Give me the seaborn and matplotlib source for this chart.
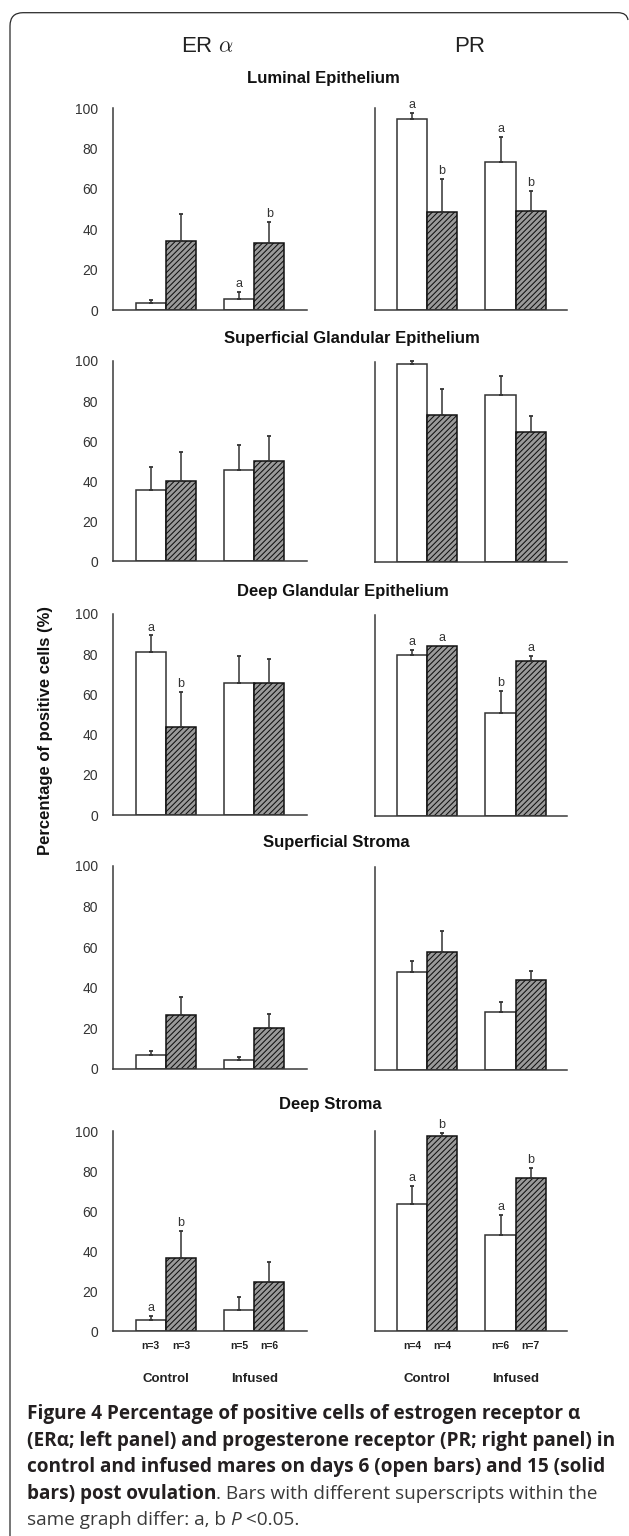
import numpy as np
import pandas as pd
import matplotlib
matplotlib.use('Agg')
import matplotlib.pyplot as plt
import seaborn as sns
from matplotlib.path import Path
from matplotlib.patches import PathPatch

# values: order = Control d6, Control d15, Infused d6, Infused d15
tissues = ['Luminal Epithelium', 'Superficial Glandular Epithelium',
           'Deep Glandular Epithelium', 'Superficial Stroma', 'Deep Stroma']
groups = ['Control', 'Infused']
days = ['Day 6', 'Day 15']

er_mean = [[3.6, 34.2, 5.6, 33.1],
           [35.5, 40.3, 45.6, 50.1],
           [81.0, 43.8, 65.6, 65.6],
           [6.7, 26.5, 4.4, 20.0],
           [5.5, 36.5, 10.7, 24.5]]
er_sem = [[1.4, 13.2, 3.3, 10.7],
          [11.8, 14.5, 12.5, 12.5],
          [8.2, 17.3, 13.2, 12.0],
          [2.3, 9.0, 1.4, 7.2],
          [2.0, 13.8, 6.6, 10.3]]
er_sig = [['', '', 'a', 'b'],
          ['', '', '', ''],
          ['a', 'b', '', ''],
          ['', '', '', ''],
          ['a', 'b', '', '']]

pr_mean = [[94.5, 48.4, 73.5, 49.2],
           [98.9, 73.3, 83.4, 64.7],
           [80.1, 84.7, 51.5, 77.1],
           [48.2, 57.9, 28.4, 44.1],
           [63.5, 97.6, 48.1, 76.6]]
pr_sem = [[3.0, 16.4, 12.4, 10.0],
          [1.4, 12.9, 9.5, 8.4],
          [2.5, 0.0, 10.8, 2.6],
          [5.3, 10.8, 5.3, 4.8],
          [9.3, 1.7, 10.0, 5.2]]
pr_sig = [['a', 'b', 'a', 'b'],
          ['', '', '', ''],
          ['a', 'a', 'b', 'a'],
          ['', '', '', ''],
          ['a', 'b', 'a', 'b']]

n_er = ['n=3', 'n=3', 'n=5', 'n=6']
n_pr = ['n=4', 'n=4', 'n=6', 'n=7']

W, H = 629, 1536
sns.set_style('white')
plt.rcParams['font.family'] = ['Liberation Sans', 'DejaVu Sans']
plt.rcParams['mathtext.fontset'] = 'cm'
plt.rcParams['hatch.linewidth'] = 0.75

fig = plt.figure(figsize=(W / 100, H / 100), dpi=100)
INK = '#333333'

# layout in pixels
left_x = (112.7, 307.3)
right_x = (375.0, 566.7)
rows_y = [((108.3, 310), (108.3, 310)),
          ((361, 561.5), (361.7, 561.7)),
          ((613.7, 815.3), (615.3, 816)),
          ((866, 1069), (867, 1070)),
          ((1131.3, 1331.3), (1131.3, 1330.7))]
title_pos = [(323.7, 78.7), (351.7, 338.3), (343, 591.3), (336.7, 842), (330, 1104)]


def make_ax(xr, yr):
    return fig.add_axes([xr[0] / W, 1 - yr[1] / H, (xr[1] - xr[0]) / W, (yr[1] - yr[0]) / H])


def draw_panel(ax, means, sems, sigs, xlim, show_labels, yticks, nlab):
    d = pd.DataFrame({'group': np.repeat(groups, 2), 'day': days * 2, 'value': means})
    sns.barplot(data=d, x='group', y='value', hue='day', order=groups, hue_order=days,
                palette=['white', '#9a9a9a'], saturation=1, width=0.684, errorbar=None,
                linewidth=1.1, legend=False, ax=ax)
    for j in range(2):
        for i, bar in enumerate(ax.containers[j]):
            k = 2 * i + j
            if j == 1:
                bar.set_hatch('//////')
                bar.set_edgecolor('#111111')
            else:
                bar.set_edgecolor(INK)
            cx = bar.get_x() + bar.get_width() / 2
            top = means[k]
            if sems[k] > 0:
                ax.errorbar(cx, top, yerr=[[0], [sems[k]]], fmt='none', ecolor=INK,
                            elinewidth=1.1, capsize=1.6, capthick=1.3, clip_on=False)
            if sigs[k]:
                ax.annotate(sigs[k], (cx, top + sems[k]), xytext=(0, 3.5),
                            textcoords='offset points', ha='center', va='baseline',
                            fontsize=9, color=INK, annotation_clip=False)
            if nlab is not None:
                ax.annotate(nlab[k], (cx, 0), xycoords=('data', 'axes fraction'),
                            xytext=(0, -10.8), textcoords='offset points', ha='center',
                            va='center', fontsize=7.5, weight='bold', color='#222222')
    if nlab is not None:
        for i, g in enumerate(groups):
            ax.annotate(g, (i, 0), xycoords=('data', 'axes fraction'), xytext=(0, -34.5),
                        textcoords='offset points', ha='center', va='center',
                        fontsize=9.5, weight='bold', color='#222222')
    ax.set_xlim(*xlim)
    ax.set_ylim(0, 100)
    ax.set_yticks(yticks)
    ax.set_xlabel('')
    ax.set_ylabel('')
    sns.despine(ax=ax)
    for s in ['left', 'bottom']:
        ax.spines[s].set_color('#3a3a3a')
        ax.spines[s].set_linewidth(1.1)
    ax.tick_params(axis='x', length=0, labelbottom=False)
    ax.tick_params(axis='y', direction='inout', length=4, width=1.0, color='#3a3a3a',
                   labelsize=10, labelcolor=INK, pad=8.5, labelleft=show_labels)
    if show_labels:
        ax.set_yticklabels([str(int(t)) for t in yticks])


for r in range(5):
    axl = make_ax(left_x, rows_y[r][0])
    axr = make_ax(right_x, rows_y[r][1])
    last = r == 4
    draw_panel(axl, er_mean[r], er_sem[r], er_sig[r], (-0.6, 1.6), True,
               np.arange(0, 101, 20), n_er if last else None)
    pr_ticks = np.linspace(0, 100, 7) if r == 2 else np.arange(0, 101, 20)
    draw_panel(axr, pr_mean[r], pr_sem[r], pr_sig[r], (-0.586, 1.575), False,
               pr_ticks, n_pr if last else None)
    tx, ty = title_pos[r]
    fig.text(tx / W, 1 - ty / H, tissues[r], ha='center', va='center',
             fontsize=12, weight='bold', color='#111111')

fig.text(207 / W, 1 - 46 / H, r'ER $\alpha$', ha='center', va='center', fontsize=16, color='#222222')
fig.text(470 / W, 1 - 46 / H, 'PR', ha='center', va='center', fontsize=16, color='#222222')
fig.text(46 / W, 1 - 730.3 / H, 'Percentage of positive cells (%)', rotation=90,
         ha='center', va='center', fontsize=12, weight='bold', color='#111111')

# frame: left and top rule with rounded corners
pts = [(10, H), (10, 26), (10, 12.7), (23, 12.7), (618, 12.7), (627, 12.7), (628, 20)]
codes = [Path.MOVETO, Path.LINETO, Path.CURVE3, Path.CURVE3, Path.LINETO, Path.CURVE3, Path.CURVE3]
verts = [(x / W, 1 - y / H) for x, y in pts]
fig.patches.append(PathPatch(Path(verts, codes), transform=fig.transFigure, fill=False,
                             edgecolor='#2a2a2a', linewidth=0.9))

# caption
cap_font = ['Open Sans', 'DejaVu Sans']
bold_col = '#231f20'
reg_col = '#3a3a3a'
r_ = fig.canvas.get_renderer()
x0 = 26.7 / W
line_y = [1414, 1440.7, 1467.3, 1494, 1520]
bold_lines = ['Figure 4 Percentage of positive cells of estrogen receptor α',
              '(ERα; left panel) and progesterone receptor (PR; right panel) in',
              'control and infused mares on days 6 (open bars) and 15 (solid']
texts = [fig.text(x0, 1 - line_y[k] / H, s, fontsize=12, weight='bold', family=cap_font,
                  color=bold_col, va='center') for k, s in enumerate(bold_lines)]
wmax = max(t.get_window_extent(r_).width for t in texts)
cs = 12 * 588 / wmax
for t in texts:
    t.set_fontsize(cs)


def run(parts, y):
    x = x0
    for s, kw in parts:
        t = fig.text(x, 1 - y / H, s, fontsize=cs, family=cap_font, va='center', **kw)
        x += t.get_window_extent(r_).width / W


run([('bars) post ovulation', dict(weight='bold', color=bold_col)),
     ('. Bars with different superscripts within the', dict(weight='normal', color=reg_col))],
    line_y[3])
run([('same graph differ: a, b ', dict(weight='normal', color=reg_col)),
     ('P', dict(weight='normal', style='italic', color=reg_col)),
     (' <0.05.', dict(weight='normal', color=reg_col))], line_y[4])

fig.savefig('out.png', dpi=100)
